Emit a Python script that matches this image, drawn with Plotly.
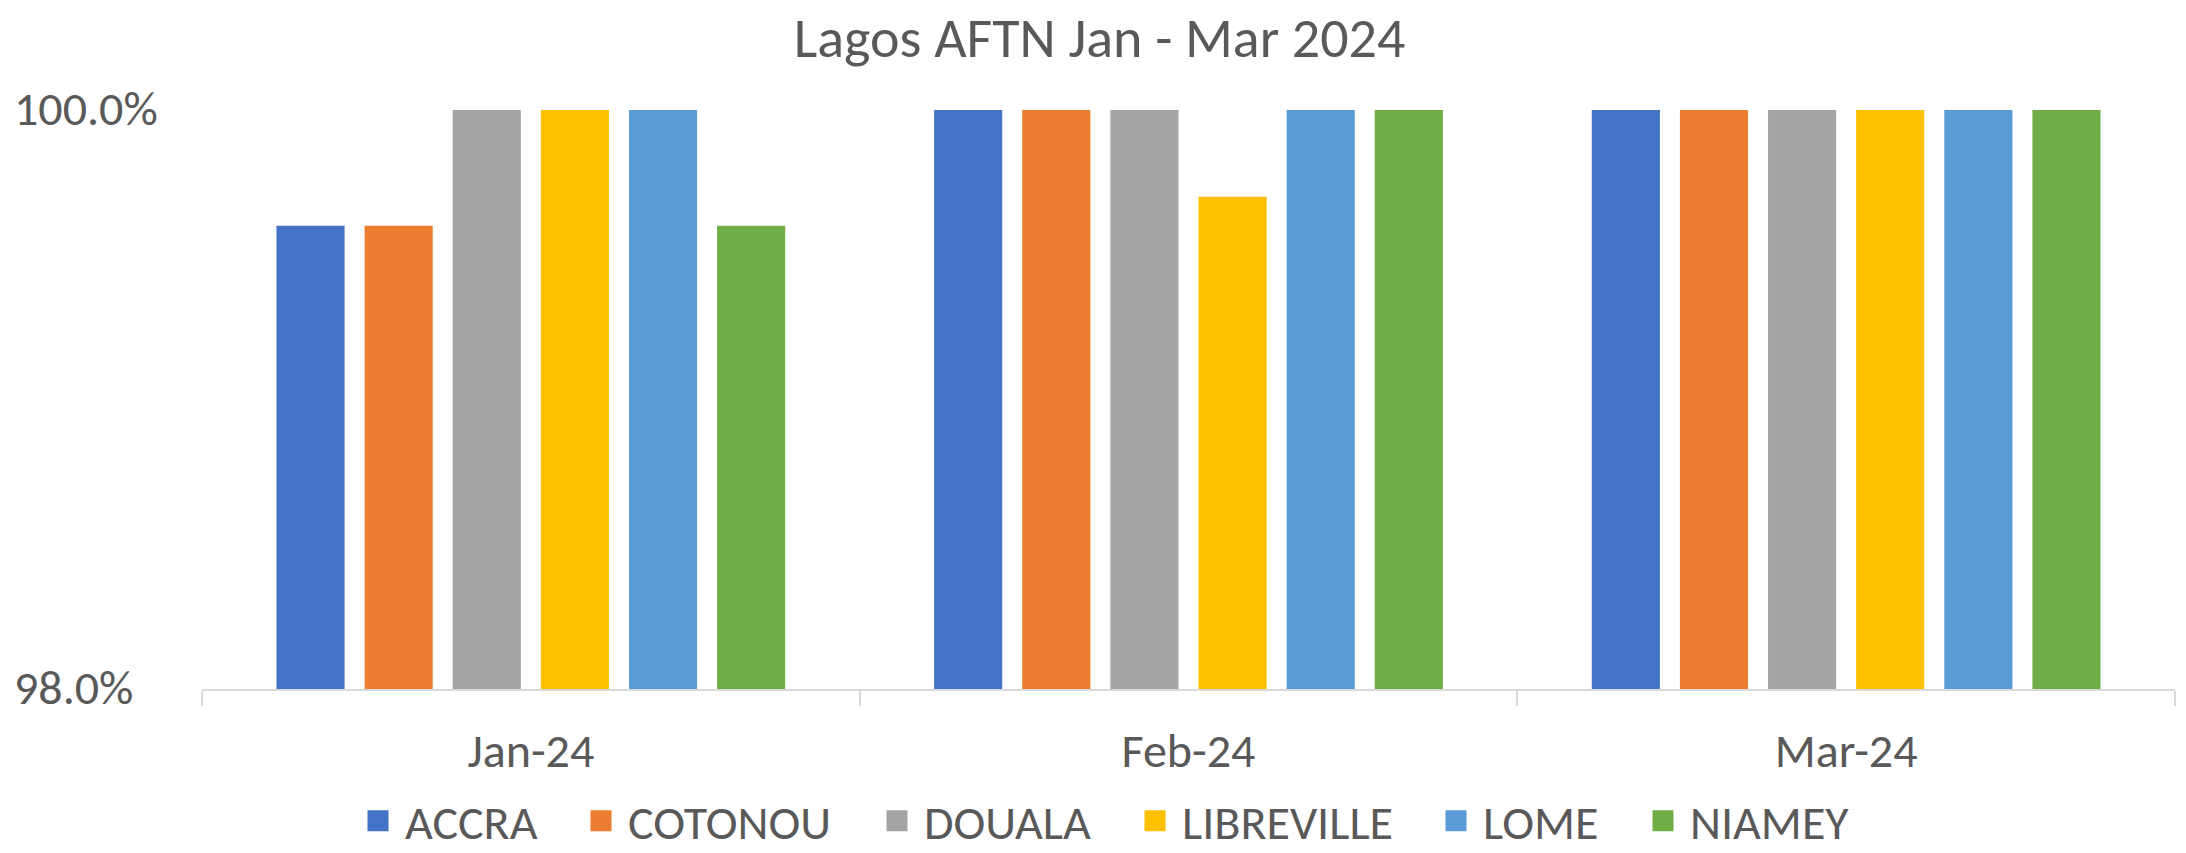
import plotly.graph_objects as go

months = ["Jan-24", "Feb-24", "Mar-24"]
stations = ["ACCRA", "COTONOU", "DOUALA", "LIBREVILLE", "LOME", "NIAMEY"]
accra = [99.6, 100.0, 100.0]
cotonou = [99.6, 100.0, 100.0]
douala = [100.0, 100.0, 100.0]
libreville = [100.0, 99.7, 100.0]
lome = [100.0, 100.0, 100.0]
niamey = [99.6, 100.0, 100.0]
y_ticks = [98.0, 100.0]

series = [accra, cotonou, douala, libreville, lome, niamey]
colors = ["#4472C4", "#ED7D31", "#A5A5A5", "#FFC000", "#5B9BD5", "#70AD47"]

# left edge (px) of each legend swatch, one legend per entry so the spacing matches
legend_left_px = [367, 590, 886, 1144, 1445, 1652]

FONT = "Calibri, Carlito, Lato, sans-serif"
TXT = "#595959"
W, H = 2186, 853

fig = go.Figure()
for name, vals, col in zip(stations, series, colors):
    fig.add_bar(x=months, y=vals, name=name, showlegend=False,
                marker={"color": col, "line": {"width": 0}})

legend_layout = {}
for i, (name, col, left) in enumerate(zip(stations, colors, legend_left_px)):
    key = "legend" if i == 0 else f"legend{i + 1}"
    # legend-only entries so the swatches can be bigger than the bar default
    fig.add_scatter(x=[None], y=[None], name=name, mode="markers", legend=key,
                    marker={"symbol": "square", "size": 16, "color": col,
                            "line": {"width": 5, "color": col}})
    legend_layout[key] = {
        "orientation": "h",
        "x": (left - 16) / W, "xref": "container", "xanchor": "left",
        "y": 1 - 821 / H, "yref": "container", "yanchor": "middle",
        "font": {"size": 48, "color": TXT, "family": FONT},
        "itemwidth": 44,
        "itemsizing": "trace",
        "bgcolor": "rgba(0,0,0,0)",
    }

# y tick labels, left aligned like the original
for v in y_ticks:
    fig.add_annotation(
        x=0, xref="paper", xshift=-190, y=v, yref="y", yshift=2,
        text=f"{v:.1f}%", showarrow=False, xanchor="left", yanchor="middle",
        font={"size": 48, "color": TXT, "family": FONT},
    )

fig.update_layout(
    width=W,
    height=H,
    paper_bgcolor="white",
    plot_bgcolor="white",
    margin={"l": 202, "r": 11, "t": 110, "b": 164, "autoexpand": False},
    barmode="group",
    bargap=0.196,
    bargroupgap=0.227,
    title={
        "text": "Lagos AFTN Jan - Mar 2024",
        "x": 0.503, "xref": "container", "xanchor": "center",
        "y": 1 - 37 / H, "yref": "container", "yanchor": "middle",
        "font": {"size": 56, "color": TXT, "family": FONT},
    },
    xaxis={
        "showline": True, "linecolor": "#D9D9D9", "linewidth": 2,
        "ticks": "outside", "tickson": "boundaries", "ticklen": 15,
        "tickcolor": "#D9D9D9", "tickwidth": 2,
        "tickfont": {"size": 48, "color": TXT, "family": FONT},
        "ticklabelstandoff": 18,
        "showgrid": False,
    },
    yaxis={
        "range": [98, 100],
        "tickvals": y_ticks,
        "showticklabels": False,
        "showgrid": True, "gridcolor": "#D9D9D9", "gridwidth": 2,
        "zeroline": False,
    },
    showlegend=True,
    **legend_layout,
)

fig.write_html("out.html", config={"displayModeBar": False},
               post_script="document.body.style.margin='0';")
